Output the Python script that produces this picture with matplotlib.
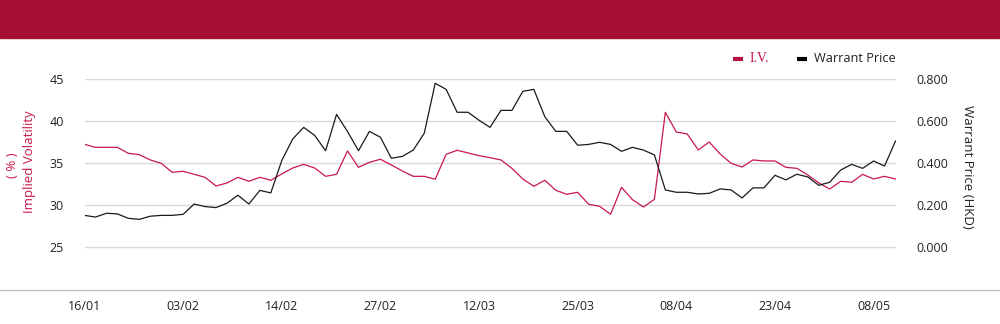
import matplotlib
matplotlib.use('Agg')
import matplotlib.pyplot as plt
from matplotlib.lines import Line2D
from matplotlib.patches import Rectangle

iv = [37.26, 36.9, 36.9, 36.9, 36.19, 36.03, 35.4, 35.0, 33.93, 34.05,
      33.69, 33.33, 32.3, 32.66, 33.33, 32.86, 33.33, 32.98, 33.73, 34.44,
      34.88, 34.44, 33.45, 33.69, 36.47, 34.52,
      35.12, 35.48, 34.80, 34.09, 33.45, 33.45, 33.10, 36.07, 36.55, 36.23,
      35.91, 35.67, 35.40, 34.40, 33.13, 32.26, 32.98, 31.79, 31.31, 31.55,
      30.12, 29.88, 28.93, 32.14, 30.67,
      29.80, 30.71, 41.07, 38.73, 38.49, 36.59, 37.54, 36.11, 35.0, 34.56,
      35.40, 35.28, 35.28, 34.52, 34.40, 33.61, 32.66, 31.94, 32.86, 32.74,
      33.69, 33.13, 33.45, 33.13]

price = [0.152, 0.144, 0.162, 0.159, 0.138, 0.133, 0.148, 0.152, 0.152, 0.157,
         0.206, 0.194, 0.189, 0.210, 0.248, 0.206, 0.271, 0.259, 0.413, 0.516,
         0.571, 0.533, 0.460, 0.633, 0.551, 0.460,
         0.552, 0.524, 0.424, 0.433, 0.463, 0.543, 0.781, 0.752, 0.643, 0.643,
         0.605, 0.571, 0.652, 0.652, 0.743, 0.752, 0.622, 0.552, 0.552, 0.486,
         0.490, 0.500, 0.490, 0.457, 0.476,
         0.463, 0.440, 0.273, 0.262, 0.262, 0.254, 0.257, 0.278, 0.273, 0.235,
         0.283, 0.283, 0.343, 0.321, 0.348, 0.335, 0.295, 0.310, 0.368, 0.395,
         0.376, 0.411, 0.387, 0.506]

tick_labels = ['16/01', '03/02', '14/02', '27/02', '12/03', '25/03', '08/04', '23/04', '08/05']
label_step = 9

iv_ticks = [25, 30, 35, 40, 45]
price_ticks = [0.0, 0.2, 0.4, 0.6, 0.8]

RED = '#C8184A'
BAND = '#A50E32'
GRID = '#D9D9D9'

plt.rcParams['font.family'] = ['Open Sans', 'DejaVu Sans']


def main():
    fig = plt.figure(figsize=(10, 3.24), dpi=100)

    # header band and full width base line
    fig.patches.append(Rectangle((0, 1 - 38 / 324), 1, 38 / 324, transform=fig.transFigure,
                                 color=BAND, zorder=0))
    fig.lines.append(Line2D([0, 1], [1 - 289.5 / 324] * 2, transform=fig.transFigure,
                            color='#BFBFBF', lw=1))

    ax = fig.add_axes([0.0845, 1 - 289.3 / 324, 0.811, 210 / 324])
    ax2 = ax.twinx()

    x = list(range(len(iv)))
    ax.plot(x, iv, color=RED, lw=0.9)
    ax2.plot(x, price, color='#1A1A1A', lw=0.9)

    ax.set_xlim(0, len(iv) - 1)
    ax.set_ylim(20, 45)
    ax2.set_ylim(-0.2, 0.8)

    ax.set_yticks(iv_ticks)
    ax.set_yticklabels([str(t) for t in iv_ticks])
    ax2.set_yticks(price_ticks)
    ax2.set_yticklabels(['%.3f' % t for t in price_ticks])
    ax.set_xticks(list(range(0, len(iv), label_step))[:len(tick_labels)])
    ax.set_xticklabels(tick_labels)

    ax.grid(axis='y', color=GRID, lw=1)
    ax.set_axisbelow(True)
    for a in (ax, ax2):
        for s in a.spines.values():
            s.set_visible(False)
    ax.tick_params(axis='y', length=0, pad=15, labelsize=9, labelcolor='#222222')
    ax2.tick_params(axis='y', length=0, pad=15, labelsize=9, labelcolor='#222222')
    ax.tick_params(axis='x', length=0, pad=8, labelsize=9, labelcolor='#222222')

    # axis titles
    fig.text(30 / 1000, 1 - 162 / 324, 'Implied Volatility', rotation=90, color=RED,
             fontsize=9.5, ha='center', va='center')
    fig.text(12 / 1000, 1 - 165 / 324, '( % )', rotation=90, color=RED,
             fontsize=9.5, ha='center', va='center')
    fig.text(968 / 1000, 1 - 167 / 324, 'Warrant Price (HKD)', rotation=-90, color='#222222',
             fontsize=9.5, ha='center', va='center')

    # legend
    ly = 1 - 59 / 324
    fig.lines.append(Line2D([733 / 1000, 743 / 1000], [ly, ly], transform=fig.transFigure,
                            color='#B5123E', lw=3, solid_capstyle='butt'))
    fig.text(750 / 1000, ly, 'I.V.', color=RED, fontsize=10, va='center',
             family=['Liberation Serif', 'DejaVu Serif'])
    fig.lines.append(Line2D([797 / 1000, 807 / 1000], [ly, ly], transform=fig.transFigure,
                            color='black', lw=3, solid_capstyle='butt'))
    fig.text(814 / 1000, ly, 'Warrant Price', color='#222222', fontsize=9.2, va='center')

    fig.savefig('out.png', dpi=100)


if __name__ == '__main__':
    main()
